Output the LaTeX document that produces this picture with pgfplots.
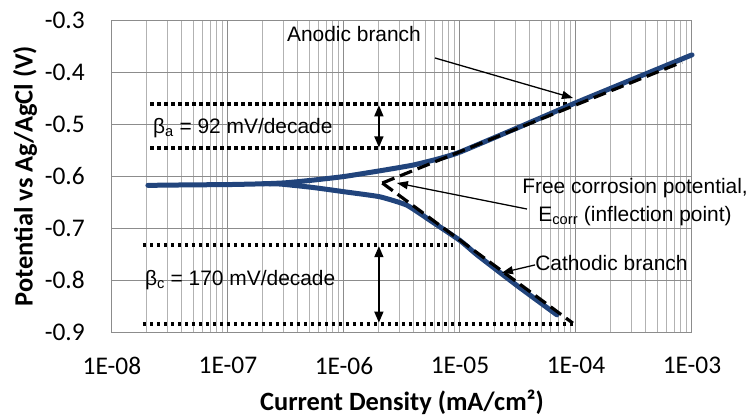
\documentclass[border=0pt]{standalone}
\usepackage{pgfplots}
\pgfplotsset{compat=1.18}
\usepackage{fontspec}
\setmainfont{Carlito}
\newfontfamily\arial{Liberation Sans}
\usetikzlibrary{arrows.meta}
\definecolor{curveblue}{RGB}{33,68,124}
\begin{document}
\begin{tikzpicture}
\useasboundingbox (-112bp,-87bp) rectangle (638bp,332bp);
\begin{axis}[
  scale only axis, width=580bp, height=312bp,
  xmode=log, log basis x=10,
  xmin=1e-8, xmax=1e-3, ymin=-0.9, ymax=-0.3,
  xtick={1e-8,1e-7,1e-6,1e-5,1e-4,1e-3},
  xticklabels={1E-08,1E-07,1E-06,1E-05,1E-04,1E-03},
  minor xtick={2e-8,3e-8,4e-8,5e-8,6e-8,7e-8,8e-8,9e-8,
               2e-7,3e-7,4e-7,5e-7,6e-7,7e-7,8e-7,9e-7,
               2e-6,3e-6,4e-6,5e-6,6e-6,7e-6,8e-6,9e-6,
               2e-5,3e-5,4e-5,5e-5,6e-5,7e-5,8e-5,9e-5,
               2e-4,3e-4,4e-4,5e-4,6e-4,7e-4,8e-4,9e-4},
  ytick={-0.9,-0.8,-0.7,-0.6,-0.5,-0.4,-0.3},
  yticklabels={-0.9,-0.8,-0.7,-0.6,-0.5,-0.4,-0.3},
  xmajorgrids, xminorgrids, ymajorgrids,
  major grid style={black!45, line width=1bp},
  minor grid style={black!30, line width=1bp},
  axis line style={black!45, line width=1bp},
  major tick length=0pt, minor tick length=0pt,
  tick label style={font=\fontsize{25.5}{30}\selectfont},
  xticklabel style={inner sep=0pt, anchor=north, yshift=-25bp},
  yticklabel style={inner sep=0pt, anchor=east, xshift=-27bp},
  xlabel={Current Density (mA/cm²)},
  ylabel={Potential vs Ag/AgCl (V)},
  label style={font=\bfseries\fontsize{26.5}{30}\selectfont},
  xlabel style={at={(axis description cs:0.5,-0.2244)}, anchor=center},
  ylabel style={at={(axis description cs:-0.15,0.5)}, anchor=center},
  clip=false,
  dotline/.style={black, line width=3.5bp, dash pattern=on 3.5bp off 3.5bp},
]
% dotted guide lines
\addplot[dotline] coordinates {(2.13e-8,-0.4615) (8.36e-5,-0.4615)};
\addplot[dotline] coordinates {(2.13e-8,-0.546) (9.06e-6,-0.546)};
\addplot[dotline] coordinates {(1.85e-8,-0.733) (8.7e-6,-0.733)};
\addplot[dotline] coordinates {(1.85e-8,-0.885) (9.4e-5,-0.885)};
% measured curve: anodic branch
\addplot[curveblue, line width=5bp, line join=round, line cap=round, smooth, tension=0.3] coordinates {
(2.04e-8,-0.618) (3.16e-8,-0.6175) (5.01e-8,-0.617) (1e-7,-0.6165)
(2.0e-7,-0.615) (3.16e-7,-0.613) (5.37e-7,-0.608) (1e-6,-0.601)
(2.04e-6,-0.590) (3.94e-6,-0.579) (6.76e-6,-0.566) (1e-5,-0.554)
(3.16e-5,-0.507) (1e-4,-0.459) (3.16e-4,-0.413) (1e-3,-0.367)};
% measured curve: cathodic branch
\addplot[curveblue, line width=5bp, line join=round, line cap=round, smooth, tension=0.3] coordinates {
(2.0e-7,-0.6148) (2.82e-7,-0.6155) (5.37e-7,-0.622) (1.06e-6,-0.631) (2.04e-6,-0.640)
(3.47e-6,-0.656) (5.5e-6,-0.685) (1e-5,-0.724) (1.41e-5,-0.752)
(3.16e-5,-0.812) (6.85e-5,-0.867)};
% Tafel extrapolations
\addplot[black, line width=3.2bp, dash pattern=on 13bp off 6bp] coordinates {(2.14e-6,-0.6135) (8.2e-4,-0.381)};
\addplot[black, line width=3.2bp, dash pattern=on 13bp off 6bp] coordinates {(2.14e-6,-0.6135) (9.4e-5,-0.883)};
% annotations
\node[font=\arial\fontsize{21}{25}\selectfont] at (axis cs:1.22e-6,-0.327) {Anodic branch};
\draw[line width=1.3bp, -{Triangle[length=11bp,width=8bp]}] (axis cs:6.08e-6,-0.373) -- (axis cs:9.42e-5,-0.45);
\node[font=\arial\fontsize{21}{25}\selectfont, anchor=west, inner sep=0pt] at (axis cs:2.25e-8,-0.5077) {β\textsubscript{a} = 92 mV/decade};
\draw[line width=1.5bp, {Triangle[length=11bp,width=9bp]}-{Triangle[length=11bp,width=9bp]}] (axis cs:2.0e-6,-0.464) -- (axis cs:2.0e-6,-0.545);
\node[font=\arial\fontsize{21}{25}\selectfont, anchor=west, inner sep=0pt] at (axis cs:1.92e-8,-0.80) {β\textsubscript{c} = 170 mV/decade};
\draw[line width=1.5bp, {Triangle[length=11bp,width=9bp]}-{Triangle[length=11bp,width=9bp]}] (axis cs:2.0e-6,-0.735) -- (axis cs:2.0e-6,-0.882);
\node[font=\arial\fontsize{21}{28}\selectfont, align=center] at (axis cs:3.23e-4,-0.65) {Free corrosion potential,\\E\textsubscript{corr} (inflection point)};
\draw[line width=1.3bp, -{Triangle[length=11bp,width=8bp]}] (axis cs:3.78e-5,-0.6635) -- (axis cs:2.86e-6,-0.6135);
\node[font=\arial\fontsize{21}{25}\selectfont, anchor=west, inner sep=0pt] at (axis cs:4.44e-5,-0.767) {Cathodic branch};
\draw[line width=1.3bp, -{Triangle[length=11bp,width=8bp]}] (axis cs:4.44e-5,-0.771) -- (axis cs:2.3e-5,-0.786);
\end{axis}
\end{tikzpicture}
\end{document}
